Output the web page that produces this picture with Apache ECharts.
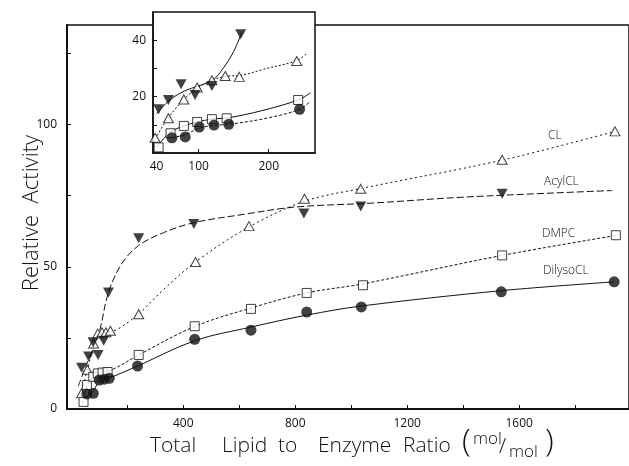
<!DOCTYPE html>
<html><head><meta charset="utf-8">
<script src="https://cdn.jsdelivr.net/npm/echarts@6/dist/echarts.min.js"></script>
<style>html,body{margin:0;padding:0;background:#fff}#c{width:629px;height:466px}</style>
</head><body><div id="c"></div>
<script>
// ---- tick labels ----
const xLabelVals = [400, 800, 1200, 1600];
const xTickVals = [200, 400, 600, 800, 1000, 1200, 1400, 1600, 1800];
const yLabelVals = [0, 50, 100];
const yTickVals = [25, 50, 75, 100, 125];
const insetXLabelVals = [40, 100, 200];
const insetXTickVals = [100, 200];
const insetYLabelVals = [20, 40];
const insetYTickVals = [10, 20, 30, 40];

// ---- main plot data (lipid/enzyme ratio, relative activity) ----
const clPts = [[37,5.5],[58,13.8],[80,23],[95,26.5],[110,27],[124,27],[140,27.5],[241,33.3],[444,51.7],[635,64.3],[833,73.9],[1034,77.4],[1539,87.6],[1942,97.6]];
const acylPts = [[37,14.5],[62,18.5],[78,23.5],[96,19],[116,24],[133,41],[241,60],[438,65],[831,68.7],[1034,71.2],[1539,75.7]];
const dmpcPts = [[44,2.5],[56,8.4],[79,11.3],[95,12.5],[112,12.8],[130,13],[241,19],[441,29.1],[642,35.2],[841,40.8],[1042,43.5],[1539,54],[1945,61.1]];
const dilysoPts = [[56,5.3],[79,5.5],[100,10.2],[118,10.5],[136,10.8],[237,15.1],[441,24.5],[642,27.7],[841,34.1],[1036,35.9],[1536,41.2],[1939,44.7]];

// fitted curves drawn by hand in the figure
const clCurve = [[30,3],[58,14],[80,22],[95,26],[130,27],[165,28],[241,33.5],[330,42],[444,51.7],[635,64],[833,73],[1034,77.5],[1539,87.5],[1942,97.6]];
const acylCurve = [[25,8],[60,17],[100,27],[133,41],[180,51],[241,57.5],[330,62],[438,65.5],[614,68.4],[800,71],[1075,72.4],[1404,74.5],[1932,76.8]];
const dmpcCurve = [[40,2],[56,8],[79,11.3],[150,14],[241,19],[441,29],[642,35.5],[841,40.8],[1042,44],[1539,54],[1945,61]];
const dilysoCurve = [[50,4],[79,6.5],[100,9.5],[140,11],[237,15.1],[441,24],[642,28.8],[841,33],[1036,36.2],[1536,41.6],[1939,44.7]];

// ---- inset data ----
const insClPts = [[38,5.4],[57,12.3],[79,19],[98,23.2],[119,25.8],[138,27.3],[158,27],[240,32.6]];
const insAcylPts = [[43,15.5],[57,18.8],[75,24.4],[95,20.6],[119,23.8],[160,42.1]];
const insDmpcPts = [[43,2],[60,7],[79,9.6],[98,11],[119,12],[140,12.3],[242,18.8]];
const insDilysoPts = [[62,5.4],[81,5.7],[101,9.2],[122,9.9],[143,10.2],[244,15.5]];

const insClCurve = [[38,5],[57,12.5],[79,19],[98,23],[119,25.8],[140,27.2],[160,27.5],[193,29.7],[240,32.8],[255,35.5]];
const insAcylCurve = [[40,14],[60,19],[80,22],[100,23.8],[120,25.8],[135,30],[150,36],[162,43]];
const insDmpcCurve = [[40,2],[50,5],[60,7.5],[79,9.6],[98,11],[119,12],[145,12.6],[190,15],[242,18.8],[260,21.4]];
const insDilysoCurve = [[62,5.5],[81,6.5],[101,8.8],[122,9.8],[145,10.2],[200,12.5],[244,15.5],[260,18.4]];

const FONT = '"Open Sans", Lato, "Liberation Sans", sans-serif';
const INK = '#111';
const plain = v => String(v);

function curve(data, xi, dash) {
  return {type:'line', xAxisIndex:xi, yAxisIndex:xi, data:data, smooth:0.35, showSymbol:false,
    lineStyle:{color:INK, width:1, type:dash}, silent:true, z:2};
}
function pts(data, xi, kind) {
  const s = {type:'scatter', xAxisIndex:xi, yAxisIndex:xi, data:data, z:5, silent:true};
  if (kind === 'openTri') { s.symbol='triangle'; s.symbolSize=[10,9]; s.itemStyle={color:'#fff', borderColor:INK, borderWidth:1}; }
  if (kind === 'fillTri') { s.symbol='triangle'; s.symbolSize=[11,10]; s.symbolRotate=180; s.itemStyle={color:INK}; }
  if (kind === 'openSq') { s.symbol='rect'; s.symbolSize=9; s.itemStyle={color:'#fff', borderColor:INK, borderWidth:1}; }
  if (kind === 'fillCirc') { s.symbol='circle'; s.symbolSize=11; s.itemStyle={color:INK}; }
  return s;
}
const T = (txt, left, top, size) => ({type:'text', left:left, top:top, z:10,
  style:{text:txt, fontSize:size, fill:INK, fontFamily:FONT, fontWeight:300}});

const chart = echarts.init(document.getElementById('c'));
chart.setOption({
  animation:false,
  backgroundColor:'#fff',
  textStyle:{fontFamily:FONT},
  grid:[
    {left:67, top:25, right:-5, bottom:57, show:true, borderColor:INK, borderWidth:1.5, backgroundColor:'transparent', z:0},
    {left:153, top:12, width:162, height:141, show:true, borderColor:INK, borderWidth:1.5, backgroundColor:'#fff', z:1}
  ],
  xAxis:[
    {type:'value', gridIndex:0, min:-15, max:1992, splitLine:{show:false},
     axisLine:{onZero:false, lineStyle:{color:INK, width:2}},
     axisTick:{inside:true, length:4, customValues:xTickVals, lineStyle:{color:INK}},
     axisLabel:{customValues:xLabelVals, formatter:plain, color:INK, fontSize:12, margin:9, fontFamily:FONT}},
    {type:'value', gridIndex:1, min:35, max:266, splitLine:{show:false}, z:3,
     axisLine:{onZero:false, lineStyle:{color:INK, width:1.5}},
     axisTick:{inside:true, length:4, customValues:insetXTickVals, lineStyle:{color:INK}},
     axisLabel:{customValues:insetXLabelVals, formatter:plain, color:INK, fontSize:12, margin:8, fontFamily:FONT}}
  ],
  yAxis:[
    {type:'value', gridIndex:0, min:0, max:135, splitLine:{show:false},
     axisLine:{onZero:false, lineStyle:{color:INK, width:2}},
     axisTick:{inside:true, length:4, customValues:yTickVals, lineStyle:{color:INK}},
     axisLabel:{customValues:yLabelVals, formatter:plain, color:INK, fontSize:12, margin:10, fontFamily:FONT}},
    {type:'value', gridIndex:1, min:0, max:50, splitLine:{show:false}, z:3,
     axisLine:{onZero:false, lineStyle:{color:INK, width:1.5}},
     axisTick:{inside:true, length:4, customValues:insetYTickVals, lineStyle:{color:INK}},
     axisLabel:{customValues:insetYLabelVals, formatter:plain, color:INK, fontSize:12, margin:7, fontFamily:FONT}}
  ],
  series:[
    curve(clCurve,0,[2,3]), curve(acylCurve,0,[7,3]), curve(dmpcCurve,0,[3,2]), curve(dilysoCurve,0,'solid'),
    pts(clPts,0,'openTri'), pts(acylPts,0,'fillTri'), pts(dmpcPts,0,'openSq'), pts(dilysoPts,0,'fillCirc'),
    curve(insClCurve,1,[2,2]), curve(insAcylCurve,1,'solid'), curve(insDmpcCurve,1,'solid'), curve(insDilysoCurve,1,[3,2]),
    pts(insClPts,1,'openTri'), pts(insAcylPts,1,'fillTri'), pts(insDmpcPts,1,'openSq'), pts(insDilysoPts,1,'fillCirc')
  ],
  graphic:[
    {type:'text', x:32, y:213, rotation:Math.PI/2, z:10,
     style:{text:'Relative  Activity', fontSize:22, fill:INK, fontFamily:FONT, fontWeight:300,
            align:'center', verticalAlign:'middle'}},
    T('CL', 548, 130, 12), T('AcylCL', 544, 176, 12), T('DMPC', 542, 228, 12), T('DilysoCL', 543, 265, 12),
    T('Total', 150, 436, 21), T('Lipid', 222, 436, 21), T('to', 278, 436, 21),
    T('Enzyme', 318, 436, 21), T('Ratio', 403, 436, 21),
    T('(', 462, 426, 32), T('mol', 473, 431, 17), T('/', 499, 437, 21), T('mol', 509, 444, 17), T(')', 545, 426, 32)
  ]
});
</script></body></html>
